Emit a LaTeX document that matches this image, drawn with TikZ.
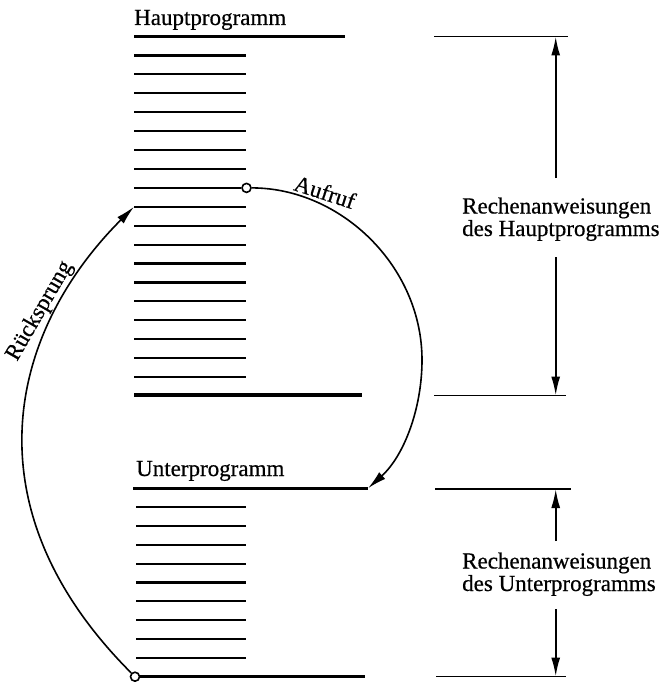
\documentclass[tikz,border=0pt]{standalone}
\usepackage{fontspec}
\setmainfont{Liberation Serif}[BoldFont={Liberation Serif}, BoldFeatures={FakeBold=0.5}]
\usetikzlibrary{arrows.meta}
\begin{document}
\begin{tikzpicture}[x=1pt,y=-1pt,
  thickline/.style={line width=3.2pt},
  instr/.style={line width=2.2pt},
  dimline/.style={line width=1.9pt},
  flow/.style={line width=1.6pt, -{Latex[length=19pt,width=9pt]}},
  dimarrow/.style={line width=1.9pt, -{Latex[length=19pt,width=9pt]}},
  port/.style={circle, draw, line width=1.6pt, fill=white, minimum size=9pt, inner sep=0pt},
  lbl/.style={font=\bfseries\fontsize{23}{22.5}\selectfont, inner sep=0pt}
]
\useasboundingbox (0,0) rectangle (666,682);

% ---------- Hauptprogramm ----------
\node[lbl, anchor=base west] (hp) at (134,25) {Hauptprogramm};
\draw[thickline] (134,36.5) -- (345,36.5);
\foreach \k in {1,...,18} {
  \ifnum\k=8\relax\else
    \draw[instr] (134,{36.5+18.92*\k}) -- (246,{36.5+18.92*\k});
  \fi
}
\node[port] (call) at (246.5,187.9) {};
\draw[instr] (134,187.9) -- (call.west);
\draw[thickline] (134,395) -- (362,395);
\coordinate (retend) at (134,206.8);

% ---------- Unterprogramm ----------
\node[lbl, anchor=base west] (up) at (136,476) {Unterprogramm};
\draw[thickline] (133,488.3) -- (368,488.3);
\coordinate (callend) at (368,488.3);
\foreach \k in {1,...,9} {
  \draw[instr] (136,{488.3+18.84*\k}) -- (246,{488.3+18.84*\k});
}
\node[port] (ret) at (135,676.7) {};
\draw[thickline] (ret.east) -- (365,676.7);

% ---------- Aufruf ----------
\draw[flow] (call) .. controls +(94,0) and +(0,-94) .. (422,360)
                   .. controls +(0,48.5) and +(36,-32.4) .. (callend);
\node[lbl, rotate=-18] (aufruf) at (325,192) {Aufruf};

% ---------- Ruecksprung ----------
\draw[flow] (ret) .. controls +(-168,-168) and +(-126,126) .. (retend);
\node[lbl, rotate=60] (rueck) at (40,311) {Rücksprung};

% ---------- Bemaßung Hauptprogramm ----------
\draw[dimline] (434,36.5) -- (568,36.5);
\draw[dimline] (434,395.5) -- (566,395.5);
\coordinate (h1) at (555.7,36.5);
\coordinate (h2) at (555.7,395.5);
\coordinate (h1s) at (555.7,178);
\coordinate (h2s) at (555.7,257);
\draw[dimarrow] (h1s) -- (h1);
\draw[dimarrow] (h2s) -- (h2);
\node[lbl, align=left, anchor=base west] (rh) at (462,236) {Rechenanweisungen\\des Hauptprogramms};

% ---------- Bemaßung Unterprogramm ----------
\draw[dimline] (435,489) -- (571,489);
\draw[dimline] (436,676.5) -- (566,676.5);
\coordinate (u1) at (555.7,489);
\coordinate (u2) at (555.7,676.5);
\coordinate (u1s) at (555.7,541);
\coordinate (u2s) at (555.7,609);
\draw[dimarrow] (u1s) -- (u1);
\draw[dimarrow] (u2s) -- (u2);
\node[lbl, align=left, anchor=base west] (ru) at (462,591) {Rechenanweisungen\\des Unterprogramms};
\end{tikzpicture}
\end{document}
